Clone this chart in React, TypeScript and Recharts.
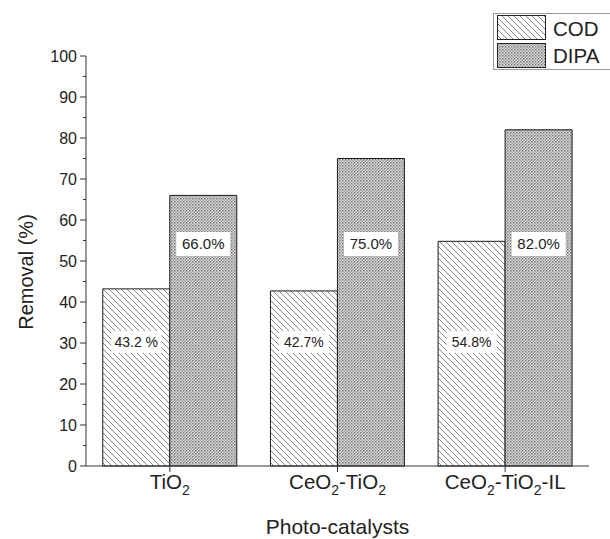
import React from "react";
import { BarChart, Bar, XAxis, YAxis, LabelList } from "recharts";

const categories = ["TiO2", "CeO2-TiO2", "CeO2-TiO2-IL"];
const codValues = [43.2, 42.7, 54.8];
const dipaValues = [66.0, 75.0, 82.0];
const codLabels = ["43.2 %", "42.7%", "54.8%"];
const dipaLabels = ["66.0%", "75.0%", "82.0%"];
const seriesNames = ["COD", "DIPA"];
const yTicks = [0, 5, 10, 15, 20, 25, 30, 35, 40, 45, 50, 55, 60, 65, 70, 75, 80, 85, 90, 95, 100];

const data = categories.map((c, i) => ({
  name: c,
  COD: codValues[i],
  DIPA: dipaValues[i],
  codLabel: codLabels[i],
  dipaLabel: dipaLabels[i],
}));

const FONT = "'Liberation Sans', Arial, sans-serif";
const AXIS = "#333";

const Patterns = ({ suffix }: { suffix: string }) => (
  <defs>
    <pattern id={"hatchCOD" + suffix} patternUnits="userSpaceOnUse" width={6} height={6}>
      <rect width={6} height={6} fill="#fff" />
      <path d="M0,0 L6,6 M-1,5 L1,7 M5,-1 L7,1" stroke="#7a7a7a" strokeWidth={0.9} />
    </pattern>
    <pattern id={"dotDIPA" + suffix} patternUnits="userSpaceOnUse" width={3} height={3}>
      <rect width={3} height={3} fill="#e2e2e2" />
      <rect x={0} y={0} width={1.5} height={1.5} fill="#707070" />
      <rect x={1.5} y={1.5} width={1.5} height={1.5} fill="#999" />
    </pattern>
  </defs>
);

const YTick = (props: any) => {
  const { x, y, payload } = props;
  const v = payload.value;
  const major = v % 10 === 0;
  const ax = x + 8;
  return (
    <g>
      <line x1={ax} x2={ax - (major ? 6 : 3)} y1={y} y2={y} stroke={AXIS} strokeWidth={1} />
      {major && (
        <text x={x - 1} y={y} dy={5.5} textAnchor="end" fontSize={16} fill="#222" fontFamily={FONT}>
          {v}
        </text>
      )}
    </g>
  );
};

const XTick = (props: any) => {
  const { x, y, payload } = props;
  const parts = String(payload.value).split(/(2)/);
  return (
    <text x={x} y={y + 15} textAnchor="middle" fontSize={20.5} fill="#222" fontFamily={FONT}>
      {parts.map((p: string, i: number) =>
        p === "2" ? (
          <tspan key={i} fontSize={14} dy={6}>2</tspan>
        ) : p.length ? (
          <tspan key={i} dy={i > 0 && parts[i - 1] === "2" ? -6 : 0}>{p}</tspan>
        ) : null
      )}
    </text>
  );
};

const makeLabel = (offsetFromBottom: number, boxW: number, boxH: number, fs: number) => (props: any) => {
  const { x, y, width, height, value } = props;
  const cx = x + width / 2;
  const cy = y + height - offsetFromBottom;
  return (
    <g>
      <rect x={cx - boxW / 2} y={cy - boxH / 2} width={boxW} height={boxH} fill="#fff" />
      <text x={cx} y={cy} dy={fs * 0.36} textAnchor="middle" fontSize={fs} fill="#222" fontFamily={FONT}>
        {value}
      </text>
    </g>
  );
};

const YLabel = (props: any) => {
  const vb = props.viewBox || { x: 0, y: 56, width: 86, height: 410 };
  const cx = vb.x + 26;
  const cy = vb.y + vb.height / 2 + 11;
  return (
    <text
      transform={`translate(${cx},${cy}) rotate(-90)`}
      textAnchor="middle"
      dy={7}
      fontSize={20}
      fill="#222"
      fontFamily={FONT}
    >
      Removal (%)
    </text>
  );
};

const LegendBox = () => (
  <svg width={117} height={58} style={{ position: "absolute", left: 493, top: 13 }}>
    <Patterns suffix="L" />
    <rect x={0.5} y={0.5} width={130} height={56} fill="#fff" stroke="#999" />
    <rect x={4.5} y={2.5} width={48} height={24} fill="url(#hatchCODL)" stroke="#222" />
    <text x={60} y={23} fontSize={20.5} fill="#222" fontFamily={FONT}>{seriesNames[0]}</text>
    <rect x={4.5} y={30.5} width={48} height={24} fill="url(#dotDIPAL)" stroke="#222" />
    <text x={60} y={50} fontSize={20.5} fill="#222" fontFamily={FONT}>{seriesNames[1]}</text>
  </svg>
);

export default function App() {
  return (
    <div style={{ position: "absolute", left: 0, top: 0, width: 610, height: 539, background: "#fff" }}>
      <BarChart
        width={610}
        height={539}
        data={data}
        margin={{ top: 56, right: 21, bottom: 0, left: 0 }}
        barCategoryGap="10%"
        barGap={0}
      >
        <Patterns suffix="" />
        <XAxis
          dataKey="name"
          height={73}
          stroke={AXIS}
          tickSize={6}
          tick={<XTick />}
          interval={0}
          label={{ value: "Photo-catalysts", position: "insideBottom", offset: 5, fontSize: 21, fill: "#222", fontFamily: FONT }}
        />
        <YAxis
          width={86}
          domain={[0, 100]}
          ticks={yTicks}
          interval={0}
          stroke={AXIS}
          tickLine={false}
          tickSize={5}
          tickMargin={3}
          tick={<YTick />}
          label={<YLabel />}
        />
        <Bar dataKey="COD" fill="url(#hatchCOD)" stroke="#1a1a1a" strokeWidth={1} isAnimationActive={false}>
          <LabelList dataKey="codLabel" content={makeLabel(124, 50, 22, 14)} />
        </Bar>
        <Bar dataKey="DIPA" fill="url(#dotDIPA)" stroke="#1a1a1a" strokeWidth={1} isAnimationActive={false}>
          <LabelList dataKey="dipaLabel" content={makeLabel(222, 54, 24, 15)} />
        </Bar>
      </BarChart>
      <LegendBox />
    </div>
  );
}
